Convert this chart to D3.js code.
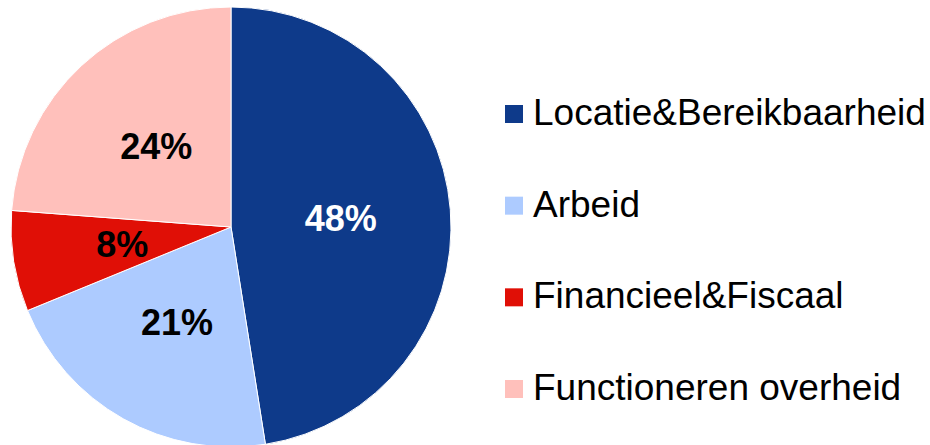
<!DOCTYPE html>
<html lang="nl">
<head>
	<meta charset="UTF-8">
	<title>pie chart</title>
	<script src="https://d3js.org/d3.v7.min.js"></script>
	<style>
		body { margin: 0; background: #fff; }
	</style>
</head>
<body>
	<script type="text/javascript">
		var categories = ["Locatie&Bereikbaarheid", "Arbeid", "Financieel&Fiscaal", "Functioneren overheid"];
		var values = [47.5, 21.3, 7.4, 23.8];
		var labels = ["48%", "21%", "8%", "24%"];
		var colors = ["#0e3a8a", "#adcbff", "#e00f06", "#ffc0bb"];
		var labelColors = ["#fff", "#000", "#000", "#000"];

		var w = 930;
		var h = 445;
		var cx = 231, cy = 227, r = 220;

		var svg = d3.select("body").append("svg").attr("width", w).attr("height", h);

		var pie = d3.pie().sort(null).value(function(d){ return d; });
		var arc = d3.arc().innerRadius(0).outerRadius(r);
		var labelArc = d3.arc().innerRadius(r * 0.5).outerRadius(r * 0.5);

		var g = svg.append("g").attr("transform", "translate(" + cx + "," + cy + ")");

		var slices = pie(values);

		//slices
		g.selectAll("path")
			.data(slices)
			.enter()
			.append("path")
			.attr("d", arc)
			.attr("fill", function(d, i){ return colors[i]; })
			.attr("stroke", "#fff")
			.attr("stroke-width", 1);

		//percent labels
		g.selectAll("text")
			.data(slices)
			.enter()
			.append("text")
			.text(function(d, i){ return labels[i]; })
			.attr("transform", function(d){ return "translate(" + labelArc.centroid(d) + ")"; })
			.attr("text-anchor", "middle")
			.attr("dy", "0.35em")
			.attr("font-family", "Liberation Sans, Arial, sans-serif")
			.attr("font-weight", "bold")
			.attr("font-size", "36px")
			.attr("fill", function(d, i){ return labelColors[i]; });

		//legend
		var legendY = d3.scalePoint().domain(categories).range([125, 400]);

		var legend = svg.selectAll("g.legend")
			.data(categories)
			.enter()
			.append("g")
			.attr("class", "legend")
			.attr("transform", function(d){ return "translate(0," + legendY(d) + ")"; });

		legend.append("rect")
			.attr("x", 505)
			.attr("y", -20)
			.attr("width", 18)
			.attr("height", 18)
			.attr("fill", function(d, i){ return colors[i]; });

		legend.append("text")
			.text(function(d){ return d; })
			.attr("x", 533)
			.attr("y", 0)
			.attr("font-family", "Liberation Sans, Arial, sans-serif")
			.attr("font-size", "37px")
			.attr("fill", "#000");
	</script>
</body>
</html>
